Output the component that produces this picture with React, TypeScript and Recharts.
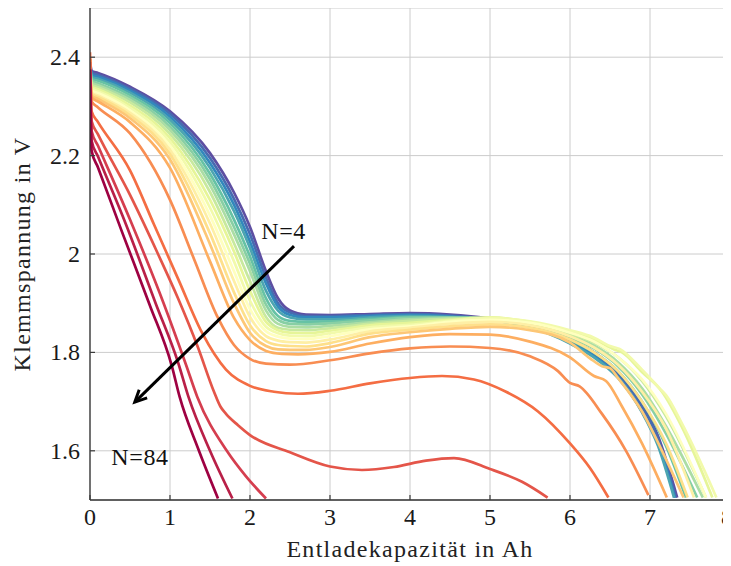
import { LineChart, Line, XAxis, YAxis, CartesianGrid, ReferenceLine, ReferenceDot } from 'recharts'

const FONT = "'Liberation Serif', 'Times New Roman', 'DejaVu Serif', serif"

// Entladekurven je Zyklus N: [Entladekapazität in Ah, Klemmspannung in V]
const n04 = [[0, 2.395], [0.02, 2.372], [0.1, 2.368], [0.5, 2.34], [1, 2.29], [1.5, 2.205], [1.8, 2.125], [2, 2.055], [2.2, 1.965], [2.35, 1.91], [2.5, 1.885], [2.7, 1.877], [3, 1.876], [3.5, 1.878], [4, 1.88], [4.5, 1.877], [5, 1.869], [5.5, 1.855], [6, 1.825], [6.3, 1.8], [6.6, 1.76], [6.9, 1.695], [7.1, 1.63], [7.34, 1.505]]
const n08 = [[0, 2.395], [0.02, 2.368], [0.1, 2.364], [0.5, 2.336], [1, 2.285], [1.5, 2.195], [1.8, 2.112], [2, 2.04], [2.2, 1.952], [2.35, 1.9], [2.5, 1.881], [2.7, 1.874], [3, 1.874], [3.5, 1.876], [4, 1.878], [4.5, 1.875], [5, 1.868], [5.5, 1.854], [6, 1.823], [6.3, 1.797], [6.6, 1.757], [6.9, 1.69], [7.1, 1.625], [7.32, 1.505]]
const n12 = [[0, 2.395], [0.02, 2.364], [0.1, 2.36], [0.5, 2.332], [1, 2.279], [1.5, 2.185], [1.8, 2.1], [2, 2.025], [2.2, 1.94], [2.35, 1.893], [2.5, 1.876], [2.7, 1.871], [3, 1.871], [3.5, 1.874], [4, 1.876], [4.5, 1.873], [5, 1.866], [5.5, 1.852], [6, 1.82], [6.3, 1.793], [6.6, 1.75], [6.9, 1.68], [7.1, 1.615], [7.31, 1.505]]
const n16 = [[0, 2.395], [0.02, 2.36], [0.1, 2.356], [0.5, 2.328], [1, 2.273], [1.5, 2.175], [1.8, 2.087], [2, 2.012], [2.2, 1.925], [2.35, 1.885], [2.5, 1.871], [2.7, 1.867], [3, 1.867], [3.5, 1.871], [4, 1.874], [4.5, 1.872], [5, 1.866], [5.5, 1.851], [6, 1.818], [6.3, 1.79], [6.6, 1.748], [6.9, 1.678], [7.1, 1.61], [7.3, 1.505]]
const n20 = [[0, 2.395], [0.02, 2.356], [0.1, 2.352], [0.5, 2.323], [1, 2.266], [1.5, 2.163], [1.8, 2.07], [2, 1.995], [2.2, 1.91], [2.35, 1.874], [2.5, 1.864], [2.7, 1.862], [3, 1.863], [3.5, 1.868], [4, 1.872], [4.5, 1.871], [5, 1.867], [5.5, 1.853], [6, 1.825], [6.3, 1.8], [6.6, 1.762], [6.9, 1.7], [7.2, 1.61], [7.45, 1.505]]
const n24 = [[0, 2.395], [0.02, 2.352], [0.1, 2.347], [0.5, 2.318], [1, 2.259], [1.5, 2.152], [1.8, 2.055], [2, 1.98], [2.2, 1.897], [2.35, 1.866], [2.5, 1.858], [2.7, 1.857], [3, 1.859], [3.5, 1.865], [4, 1.87], [4.5, 1.871], [5, 1.868], [5.5, 1.856], [6, 1.83], [6.3, 1.808], [6.6, 1.772], [6.9, 1.715], [7.2, 1.635], [7.59, 1.505]]
const n28 = [[0, 2.395], [0.02, 2.348], [0.1, 2.343], [0.5, 2.313], [1, 2.252], [1.5, 2.14], [1.8, 2.04], [2, 1.965], [2.2, 1.885], [2.35, 1.858], [2.5, 1.852], [2.7, 1.851], [3, 1.854], [3.5, 1.861], [4, 1.867], [4.5, 1.869], [5, 1.869], [5.5, 1.858], [6, 1.834], [6.3, 1.814], [6.6, 1.78], [6.9, 1.727], [7.2, 1.65], [7.66, 1.505]]
const n32 = [[0, 2.395], [0.02, 2.344], [0.1, 2.339], [0.5, 2.308], [1, 2.244], [1.5, 2.126], [1.8, 2.022], [2, 1.945], [2.2, 1.872], [2.35, 1.85], [2.5, 1.846], [2.7, 1.845], [3, 1.849], [3.5, 1.858], [4, 1.864], [4.5, 1.868], [5, 1.87], [5.5, 1.86], [6, 1.838], [6.3, 1.82], [6.6, 1.79], [6.9, 1.742], [7.2, 1.67], [7.7, 1.505]]
const n36 = [[0, 2.395], [0.02, 2.34], [0.1, 2.335], [0.5, 2.302], [1, 2.236], [1.5, 2.11], [1.8, 2.005], [2, 1.925], [2.2, 1.862], [2.35, 1.845], [2.5, 1.84], [2.7, 1.839], [3, 1.844], [3.5, 1.855], [4, 1.86], [4.5, 1.866], [5, 1.871], [5.5, 1.862], [6, 1.842], [6.3, 1.826], [6.55, 1.806], [6.65, 1.8], [6.9, 1.76], [7.15, 1.72], [7.4, 1.648], [7.78, 1.505]]
const n40 = [[0, 2.395], [0.02, 2.336], [0.1, 2.331], [0.5, 2.297], [1, 2.228], [1.5, 2.094], [1.8, 1.985], [2, 1.905], [2.2, 1.852], [2.35, 1.839], [2.5, 1.834], [2.7, 1.833], [3, 1.839], [3.5, 1.851], [4, 1.856], [4.5, 1.864], [5, 1.87], [5.5, 1.863], [6, 1.845], [6.3, 1.83], [6.5, 1.813], [6.62, 1.807], [6.9, 1.765], [7.12, 1.727], [7.2, 1.713], [7.4, 1.655], [7.83, 1.505]]
const n44 = [[0, 2.395], [0.02, 2.332], [0.1, 2.327], [0.5, 2.292], [1, 2.22], [1.5, 2.078], [1.8, 1.965], [2, 1.888], [2.2, 1.843], [2.35, 1.832], [2.5, 1.828], [2.7, 1.827], [3, 1.833], [3.5, 1.847], [4, 1.853], [4.5, 1.862], [5, 1.866], [5.5, 1.86], [6, 1.84], [6.3, 1.822], [6.6, 1.79], [6.9, 1.745], [7.2, 1.675], [7.7, 1.505]]
const n48 = [[0, 2.395], [0.02, 2.328], [0.1, 2.322], [0.5, 2.287], [1, 2.212], [1.5, 2.062], [1.8, 1.945], [2, 1.872], [2.2, 1.833], [2.35, 1.824], [2.5, 1.821], [2.7, 1.82], [3, 1.826], [3.5, 1.843], [4, 1.85], [4.5, 1.858], [5, 1.862], [5.5, 1.855], [6, 1.833], [6.3, 1.81], [6.6, 1.775], [6.9, 1.72], [7.2, 1.645], [7.55, 1.505]]
const n52 = [[0, 2.395], [0.02, 2.325], [0.1, 2.319], [0.5, 2.282], [1, 2.203], [1.5, 2.042], [1.8, 1.922], [2, 1.855], [2.2, 1.823], [2.35, 1.815], [2.5, 1.813], [2.7, 1.812], [3, 1.819], [3.5, 1.838], [4, 1.846], [4.5, 1.853], [5, 1.857], [5.5, 1.85], [6, 1.826], [6.3, 1.8], [6.6, 1.762], [6.9, 1.7], [7.2, 1.615], [7.47, 1.505]]
const n56 = [[0, 2.395], [0.02, 2.322], [0.1, 2.315], [0.5, 2.276], [1, 2.192], [1.5, 2.02], [1.8, 1.9], [2, 1.84], [2.2, 1.813], [2.35, 1.806], [2.5, 1.805], [2.7, 1.805], [3, 1.811], [3.5, 1.831], [4, 1.841], [4.5, 1.848], [5, 1.852], [5.5, 1.845], [6, 1.82], [6.25, 1.788], [6.4, 1.772], [6.5, 1.768], [6.6, 1.748], [6.9, 1.68], [7.15, 1.6], [7.42, 1.505]]
const n60 = [[0, 2.395], [0.02, 2.318], [0.1, 2.31], [0.5, 2.268], [1, 2.175], [1.5, 1.985], [1.8, 1.87], [2, 1.825], [2.2, 1.803], [2.4, 1.797], [2.6, 1.796], [3, 1.801], [3.5, 1.818], [4, 1.831], [4.5, 1.837], [5, 1.836], [5.5, 1.822], [6, 1.79], [6.3, 1.752], [6.45, 1.742], [6.65, 1.69], [6.9, 1.615], [7.21, 1.505]]
const n64 = [[0, 2.4], [0.02, 2.31], [0.1, 2.298], [0.5, 2.245], [1, 2.11], [1.3, 1.99], [1.6, 1.87], [1.8, 1.815], [2, 1.787], [2.2, 1.777], [2.5, 1.775], [3, 1.784], [3.5, 1.798], [4, 1.808], [4.5, 1.812], [5, 1.809], [5.5, 1.792], [5.85, 1.762], [6, 1.738], [6.12, 1.731], [6.4, 1.675], [6.7, 1.6], [6.98, 1.51]]
const n68 = [[0, 2.41], [0.02, 2.29], [0.1, 2.268], [0.5, 2.17], [0.8, 2.06], [1.1, 1.95], [1.4, 1.84], [1.7, 1.765], [2, 1.732], [2.3, 1.72], [2.6, 1.716], [3, 1.722], [3.5, 1.737], [4, 1.748], [4.4, 1.752], [4.8, 1.745], [5.2, 1.72], [5.6, 1.68], [6, 1.615], [6.25, 1.565], [6.48, 1.505]]
const n72 = [[0, 2.39], [0.02, 2.27], [0.1, 2.243], [0.5, 2.12], [0.85, 2], [1.1, 1.91], [1.35, 1.81], [1.55, 1.72], [1.63, 1.69], [1.7, 1.675], [1.85, 1.652], [2, 1.632], [2.5, 1.597], [3, 1.568], [3.4, 1.561], [3.8, 1.567], [4.2, 1.58], [4.55, 1.585], [5, 1.563], [5.4, 1.537], [5.72, 1.505]]
const n76 = [[0, 2.375], [0.02, 2.25], [0.1, 2.22], [0.5, 2.07], [0.92, 1.9], [1.2, 1.775], [1.34, 1.71], [1.71, 1.6], [1.95, 1.548], [2.2, 1.503]]
const n80 = [[0, 2.375], [0.02, 2.23], [0.1, 2.198], [0.45, 2.06], [0.82, 1.9], [1.1, 1.78], [1.23, 1.71], [1.5, 1.6], [1.78, 1.503]]
const n84 = [[0, 2.375], [0.02, 2.21], [0.1, 2.176], [0.4, 2.045], [0.75, 1.895], [1.02, 1.774], [1.12, 1.71], [1.35, 1.605], [1.6, 1.503]]

const CYCLES = [4, 8, 12, 16, 20, 24, 28, 32, 36, 40, 44, 48, 52, 56, 60, 64, 68, 72, 76, 80, 84]
const CURVES = [n04, n08, n12, n16, n20, n24, n28, n32, n36, n40, n44, n48, n52, n56, n60, n64, n68, n72, n76, n80, n84]
// Spectral, von N=4 (violett) bis N=84 (dunkelrot)
const COLORS = ['#5e4fa2', '#486bb0', '#3288bd', '#4ca5b1', '#66c2a5', '#88cfa4', '#abdda4', '#c8e99e', '#e6f598', '#f2faab', '#ffffbf', '#feefa5', '#fee08b', '#fdc776', '#fdae61', '#f88d52', '#f46d43', '#e45549', '#d53e4f', '#b92048', '#9e0142']

const X_TICKS = [0, 1, 2, 3, 4, 5, 6, 7, 8]
const Y_TICKS = [1.6, 1.8, 2, 2.2, 2.4]

// Pfeil in Richtung steigender Zyklenzahl
const ARROW = [{ x: 2.55, y: 2.016 }, { x: 0.56, y: 1.699 }]
const N_FIRST = { x: 2.42, y: 2.03, text: 'N=4' }
const N_LAST = { x: 0.625, y: 1.571, text: 'N=84' }

const series = CURVES.map((pts, i) => ({
  n: CYCLES[i],
  color: COLORS[i],
  rows: pts.map(([x, v]) => ({ x, v })),
}))

const textStyle = { fontFamily: FONT, fontSize: 24 }

function XTick({ x, y, payload }: any) {
  return (
    <g>
      <line x1={x} x2={x} y1={y} y2={y - 5} stroke="#3a3a3a" strokeWidth={1.2} />
      <text x={x} y={y + 25} textAnchor="middle" style={textStyle} fill="#1a1a1a">
        {payload.value}
      </text>
    </g>
  )
}

function YTick({ x, y, payload }: any) {
  return (
    <g>
      <line x1={x} x2={x + 5} y1={y} y2={y} stroke="#3a3a3a" strokeWidth={1.2} />
      <text x={x - 10} y={y + 8} textAnchor="end" style={textStyle} fill="#1a1a1a">
        {payload.value}
      </text>
    </g>
  )
}

function ArrowShape({ x1, y1, x2, y2 }: any) {
  const a = Math.atan2(y2 - y1, x2 - x1)
  const len = 13
  const spread = 0.45
  const bx1 = x2 - len * Math.cos(a - spread)
  const by1 = y2 - len * Math.sin(a - spread)
  const bx2 = x2 - len * Math.cos(a + spread)
  const by2 = y2 - len * Math.sin(a + spread)
  return (
    <g>
      <line x1={x1} y1={y1} x2={x2} y2={y2} stroke="#000" strokeWidth={3} />
      <path d={`M${bx1},${by1} L${x2},${y2} L${bx2},${by2}`} fill="none" stroke="#000" strokeWidth={3} />
    </g>
  )
}

const textLabel = (text: string) => ({ viewBox }: any) => (
  <text
    x={viewBox.x + viewBox.width / 2}
    y={viewBox.y + viewBox.height / 2}
    textAnchor="middle"
    style={{ ...textStyle, letterSpacing: 0.6 }}
    fill="#111"
  >
    {text}
  </text>
)

export default function App() {
  return (
    <LineChart width={723} height={558} margin={{ top: 0, right: 1, bottom: 0, left: 0 }}>
      <CartesianGrid stroke="#cccccc" strokeWidth={1} />
      <XAxis
        type="number"
        dataKey="x"
        domain={[0, 8]}
        ticks={X_TICKS}
        allowDataOverflow
        height={66}
        tickSize={0}
        tickMargin={0}
        tickLine={false}
        tick={<XTick />}
        axisLine={{ stroke: '#333', strokeWidth: 1.3 }}
        label={({ viewBox }: any) => (
          <text
            x={viewBox.x + viewBox.width / 2}
            y={viewBox.y + 57}
            textAnchor="middle"
            style={{ ...textStyle, letterSpacing: 1.3 }}
            fill="#222"
          >
            Entladekapazität in Ah
          </text>
        )}
      />
      <YAxis
        type="number"
        domain={[1.5, 2.5]}
        ticks={Y_TICKS}
        allowDataOverflow
        width={82}
        tickSize={0}
        tickMargin={0}
        tickLine={false}
        tick={<YTick />}
        axisLine={{ stroke: '#333', strokeWidth: 1.3 }}
        label={({ viewBox }: any) => {
          const cx = viewBox.x + 22
          const cy = viewBox.y + viewBox.height / 2
          return (
            <text
              x={cx}
              y={cy}
              transform={`rotate(-90 ${cx} ${cy})`}
              textAnchor="middle"
              style={{ ...textStyle, letterSpacing: 1.3 }}
              fill="#222"
            >
              Klemmspannung in V
            </text>
          )
        }}
      />
      {series.map((s) => (
        <Line
          key={s.n}
          data={s.rows}
          dataKey="v"
          type="monotone"
          stroke={s.color}
          strokeWidth={2.7}
          dot={false}
          activeDot={false}
          isAnimationActive={false}
        />
      ))}
      <ReferenceLine segment={ARROW} shape={<ArrowShape />} ifOverflow="visible" />
      <ReferenceDot x={N_FIRST.x} y={N_FIRST.y} r={0} fill="none" stroke="none" label={textLabel(N_FIRST.text)} />
      <ReferenceDot x={N_LAST.x} y={N_LAST.y} r={0} fill="none" stroke="none" label={textLabel(N_LAST.text)} />
    </LineChart>
  )
}
